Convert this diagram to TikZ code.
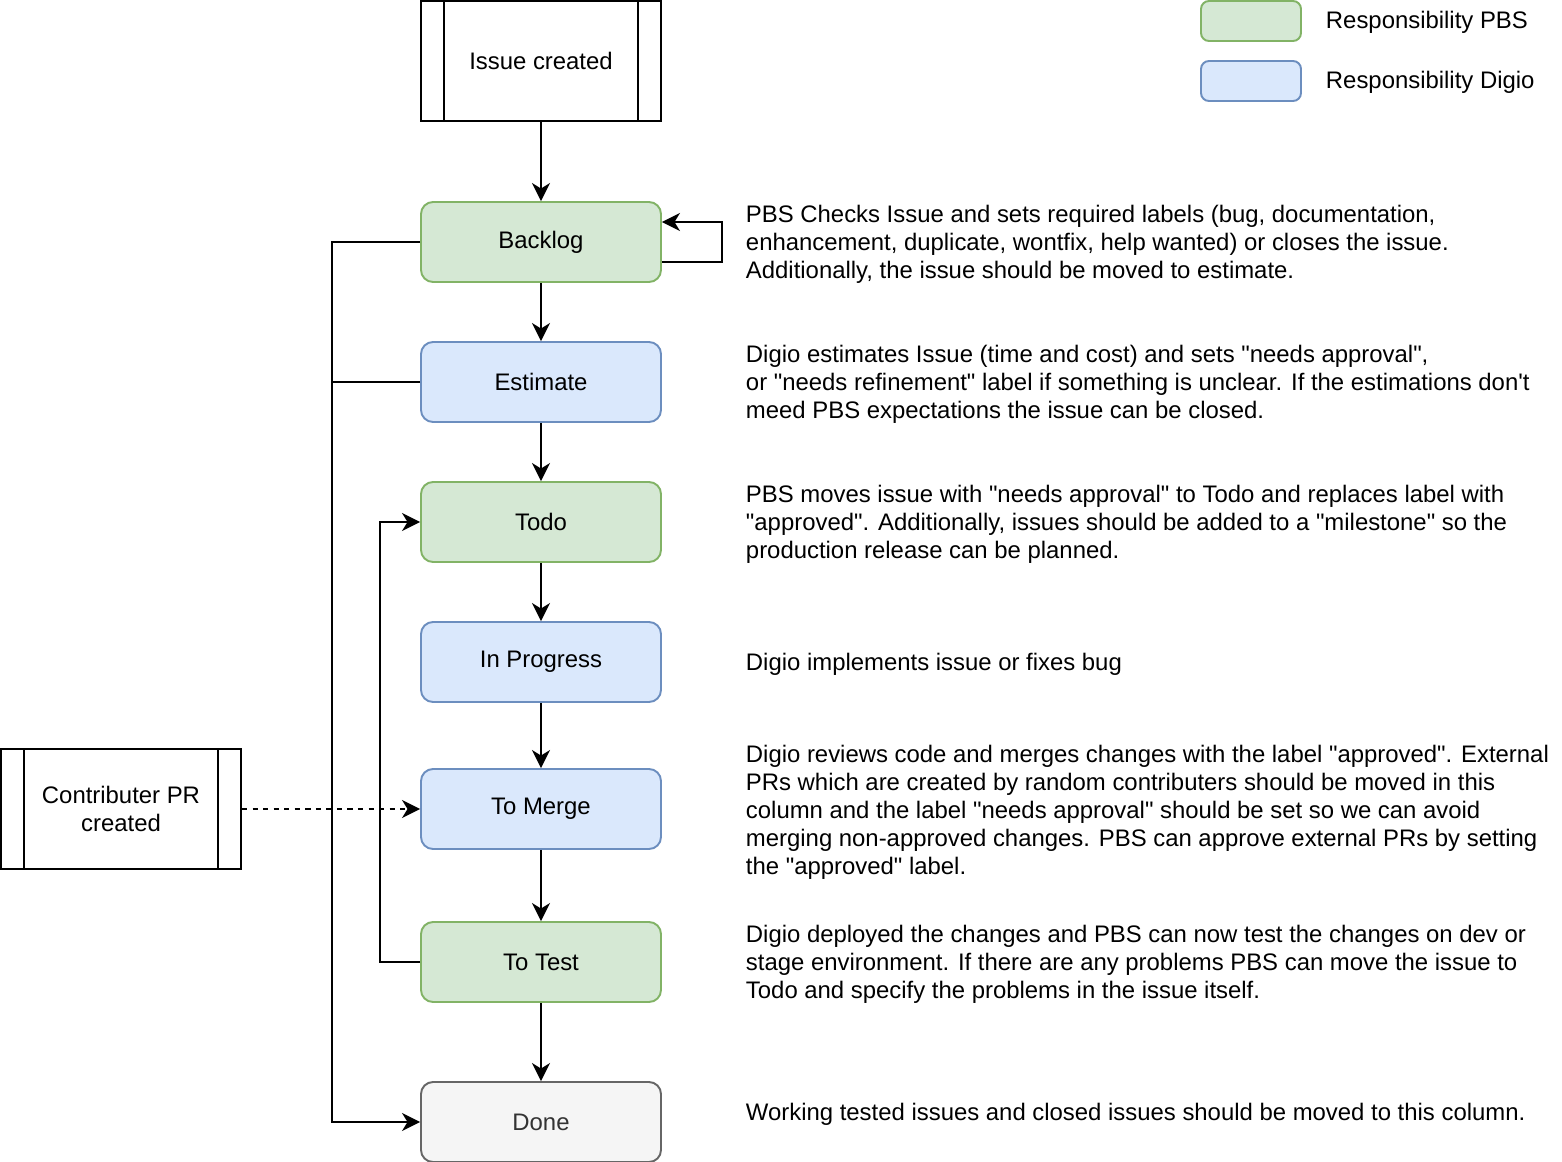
\documentclass[tikz,border=0pt]{standalone}
\usepackage{fontspec}
\setmainfont[Ligatures=TeXOff]{Liberation Sans}
\usepackage{xcolor}
\usepackage{tikz}
\usetikzlibrary{arrows.meta, positioning}

\definecolor{pbsfill}{HTML}{D5E8D4}
\definecolor{pbsline}{HTML}{82B366}
\definecolor{digiofill}{HTML}{DAE8FC}
\definecolor{digioline}{HTML}{6C8EBF}
\definecolor{donefill}{HTML}{F5F5F5}
\definecolor{doneline}{HTML}{666666}
\definecolor{donetext}{HTML}{333333}

\begin{document}
\begin{tikzpicture}[arrows={-Stealth[length=3.6mm, width=3.6mm, inset=1.1mm]},
			x=0.2mm, y=-0.2mm,
			line width=1.1pt,
			font=\fontsize{13.6}{15.9}\selectfont,
			box/.style={rounded corners=2.4mm, minimum width=48mm, minimum height=16mm, line width=1.1pt},
			pbs/.style={box, draw=pbsline, fill=pbsfill},
			digio/.style={box, draw=digioline, fill=digiofill},
			finished/.style={box, draw=doneline, fill=donefill, text=donetext},
			proc/.style={draw, minimum width=48mm, minimum height=24mm, align=center},
			note/.style={anchor=west, align=left, inner sep=0pt},
			key/.style={rounded corners=1.6mm, minimum width=20mm, minimum height=8mm, line width=1.1pt}]
			\useasboundingbox (0,0) rectangle (1562,1162);
			\node at (541,61) (a) [proc] {Issue created};
			\node at (541,242) (b) [pbs] {Backlog};
			\node at (541,382) (c) [digio] {Estimate};
			\node at (541,522) (d) [pbs] {Todo};
			\node at (541,662) (e) [digio] {In Progress};
			\node at (541,809) (f) [digio] {To Merge};
			\node at (541,962) (g) [pbs] {To Test};
			\node at (541,1122) (h) [finished] {Done};
			\node at (121,809) (i) [proc] {Contributer PR\\created};
			\draw[-] ([xshift=4.8mm]a.north west) -- ([xshift=4.8mm]a.south west);
			\draw[-] ([xshift=-4.8mm]a.north east) -- ([xshift=-4.8mm]a.south east);
			\draw[-] ([xshift=4.8mm]i.north west) -- ([xshift=4.8mm]i.south west);
			\draw[-] ([xshift=-4.8mm]i.north east) -- ([xshift=-4.8mm]i.south east);
			\node at (1251,21) (k1) [key, draw=pbsline, fill=pbsfill] {};
			\node at (1251,81) (k2) [key, draw=digioline, fill=digiofill] {};
			\node at (1325,22) (l1) [note] {Responsibility PBS};
			\node at (1325,82) (l2) [note] {Responsibility Digio};
			\node at (745,244) (nb) [note] {PBS Checks Issue and sets required labels (bug, documentation,\\enhancement, duplicate, wontfix, help wanted) or closes the issue.\\Additionally, the issue should be moved to estimate.};
			\node at (745,384) (nc) [note] {Digio estimates Issue (time and cost) and sets "needs approval",\\or "needs refinement" label if something is unclear. If the estimations don't\\meed PBS expectations the issue can be closed.};
			\node at (745,524) (nd) [note] {PBS moves issue with "needs approval" to Todo and replaces label with\\"approved". Additionally, issues should be added to a "milestone" so the\\production release can be planned.};
			\node at (745,664) (ne) [note] {Digio implements issue or fixes bug};
			\node at (745,812) (nf) [note] {Digio reviews code and merges changes with the label "approved". External\\PRs which are created by random contributers should be moved in this\\column and the label "needs approval" should be set so we can avoid\\merging non-approved changes. PBS can approve external PRs by setting\\the "approved" label.};
			\node at (745,964) (ng) [note] {Digio deployed the changes and PBS can now test the changes on dev or\\stage environment. If there are any problems PBS can move the issue to\\Todo and specify the problems in the issue itself.};
			\node at (745,1114) (nh) [note] {Working tested issues and closed issues should be moved to this column.};
			\draw (a) -- (b);
			\draw (b) -- (c);
			\draw (c) -- (d);
			\draw (d) -- (e);
			\draw (e) -- (f);
			\draw (f) -- (g);
			\draw (g) -- (h);
			\draw ([yshift=-4mm]b.east) -- ++(12mm,0) |- ([yshift=4mm]b.east);
			\draw (b.west) -- ++(-17.6mm,0) |- (h.west);
			\draw[-] (c.west) -- ++(-17.6mm,0);
			\draw (g.west) -- ++(-8mm,0) |- (d.west);
			\draw[dashed] (i.east) -- (f.west);
		\end{tikzpicture}
\end{document}
